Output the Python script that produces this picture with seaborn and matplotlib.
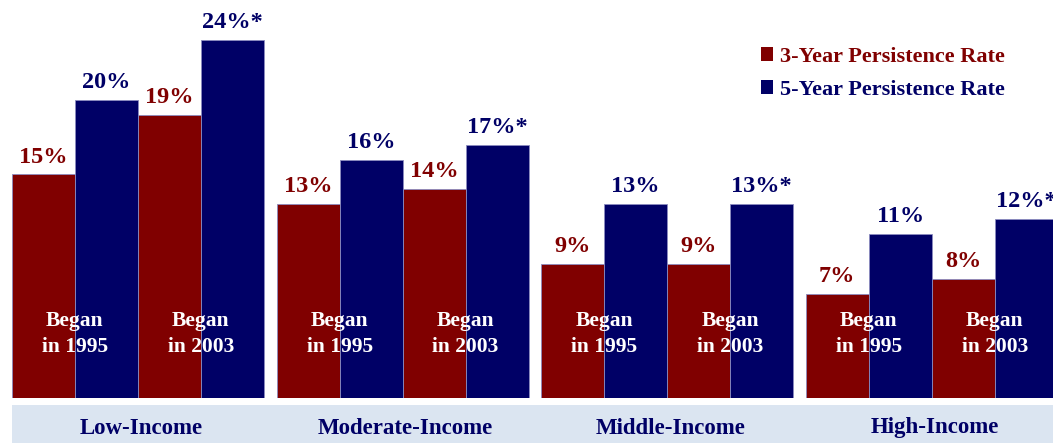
import numpy as np
import pandas as pd
import matplotlib.pyplot as plt
import seaborn as sns
from matplotlib.patches import Patch, Rectangle
from matplotlib.transforms import blended_transform_factory

groups = ['Low-Income', 'Moderate-Income', 'Middle-Income', 'High-Income']
cohorts = ['Began\nin 1995', 'Began\nin 2003']
rates = ['3-Year Persistence Rate', '5-Year Persistence Rate']
# values per group: [1995 3yr, 1995 5yr, 2003 3yr, 2003 5yr]
values = [
    [15, 20, 19, 24],
    [13, 16, 14, 17],
    [9, 13, 9, 13],
    [7, 11, 8, 12],
]
labels = [
    ['15%', '20%', '19%', '24%*'],
    ['13%', '16%', '14%', '17%*'],
    ['9%', '13%', '9%', '13%*'],
    ['7%', '11%', '8%', '12%*'],
]

RED = '#800000'
NAVY = '#000066'
BAND = '#dbe5f1'
GROUP_STEP = 4.2

rows = []
for g, grp in enumerate(groups):
    for k in range(4):
        rows.append({
            'pos': g * GROUP_STEP + k + 0.5,
            'value': values[g][k],
            'label': labels[g][k],
            'rate': rates[k % 2],
            'group': grp,
        })
df = pd.DataFrame(rows)

sns.set_style('white')
plt.rcParams['font.family'] = ['Liberation Serif', 'DejaVu Serif']

fig = plt.figure(figsize=(10.53, 4.43), dpi=100)
ax = fig.add_axes([0, 45 / 443, 1, 398 / 443])

sns.barplot(data=df, x='pos', y='value', hue='rate', native_scale=True,
            palette={rates[0]: RED, rates[1]: NAVY}, dodge=False, width=1.0,
            saturation=1, edgecolor='#8c8cc0', linewidth=0.6, legend=False,
            ax=ax)

ax.set_xlim(-12 / 63, (1053 - 12) / 63)
ax.set_ylim(0, 398 / 14.9)
ax.axis('off')

# value labels
for _, r in df.iterrows():
    col = RED if r['rate'] == rates[0] else NAVY
    ax.annotate(r['label'], (r['pos'], r['value']), xytext=(0, 5),
                textcoords='offset points', ha='center', va='bottom',
                fontsize=17.5, fontweight='bold', color=col)

# cohort labels inside bars
for g in range(len(groups)):
    for c, txt in enumerate(cohorts):
        x = g * GROUP_STEP + c * 2 + 1.0
        ax.text(x, 4.3, txt, ha='center', va='center', color='white',
                fontsize=15.5, fontweight='bold', linespacing=1.35)

# bottom band with group names
fig.patches.append(Rectangle((12 / 1053, 0), 1 - 12 / 1053, 38 / 443,
                             transform=fig.transFigure, facecolor=BAND,
                             edgecolor='none', zorder=-1))
trans = blended_transform_factory(ax.transData, fig.transFigure)
for g, grp in enumerate(groups):
    ax.text(g * GROUP_STEP + 2.05, 15 / 443, grp, transform=trans,
            ha='center', va='center', fontsize=16.5, fontweight='bold',
            color=NAVY, clip_on=False)

# legend
handles = [Patch(facecolor=RED, edgecolor='none'),
           Patch(facecolor=NAVY, edgecolor='none')]
leg = ax.legend(handles, rates, loc='upper left',
                bbox_to_anchor=(741 / 1053, 1 - 27 / 398), frameon=False,
                handlelength=0.55, handleheight=0.55, handletextpad=0.3,
                labelspacing=0.58, prop={'size': 16, 'weight': 'bold'})
for t, col in zip(leg.get_texts(), [RED, NAVY]):
    t.set_color(col)

fig.savefig('out.png', dpi=100)
